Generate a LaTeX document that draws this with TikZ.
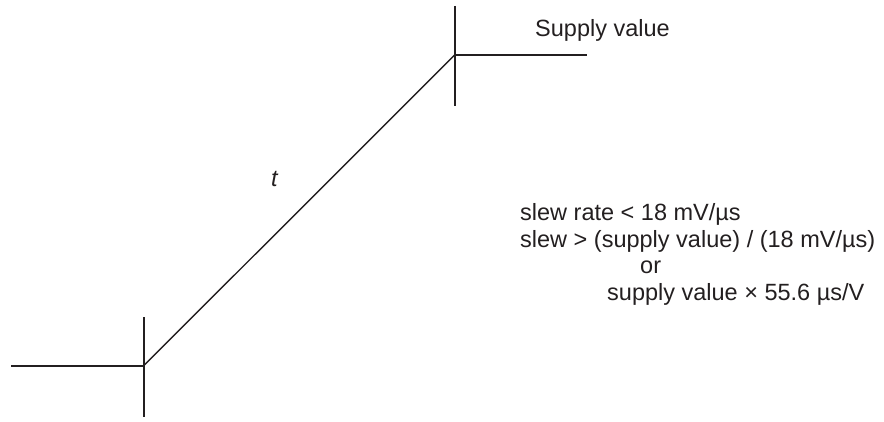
\documentclass[tikz,border=0pt]{standalone}
\usepackage{fontspec}
\setmainfont{Liberation Sans}
\definecolor{ink}{HTML}{231F20}
\begin{document}
\begin{tikzpicture}[x=1pt,y=1pt,
  wire/.style={draw=ink,line width=1.6pt},
  ramp/.style={draw=ink,line width=1.4pt},
  lbl/.style={text=ink,font=\fontsize{23.5}{27}\selectfont,inner sep=0pt,anchor=base west}]
\useasboundingbox (0,0) rectangle (884,421);
% corners (y = 421 - pixel row)
\coordinate (lo) at (143.7,55.3);
\coordinate (loL) at (11,55.3);
\coordinate (loT) at (143.7,104);
\coordinate (loB) at (143.7,3.8);
\coordinate (hi) at (454.7,366);
\coordinate (hiR) at (586.7,366);
\coordinate (hiT) at (454.7,415);
\coordinate (hiB) at (454.7,314.5);
\draw[wire] (loL) -- (lo);
\draw[wire] (loT) -- (loB);
\draw[wire] (hi) -- (hiR);
\draw[wire] (hiT) -- (hiB);
\draw[ramp] (lo) -- (hi);
% labels
\node[lbl] (sv) at (535,384) {Supply value};
\node[lbl] (t) at (271,234.5) {\itshape t};
\node[lbl] (l1) at (520,200.3) {slew rate < 18 mV/µs};
\node[lbl] (l2) at (520,173) {slew > (supply value) / (18 mV/µs)};
\node[lbl] (l3) at (640,147.5) {or};
\node[lbl] (l4) at (607,121) {supply value × 55.6 µs/V};
\end{tikzpicture}
\end{document}
